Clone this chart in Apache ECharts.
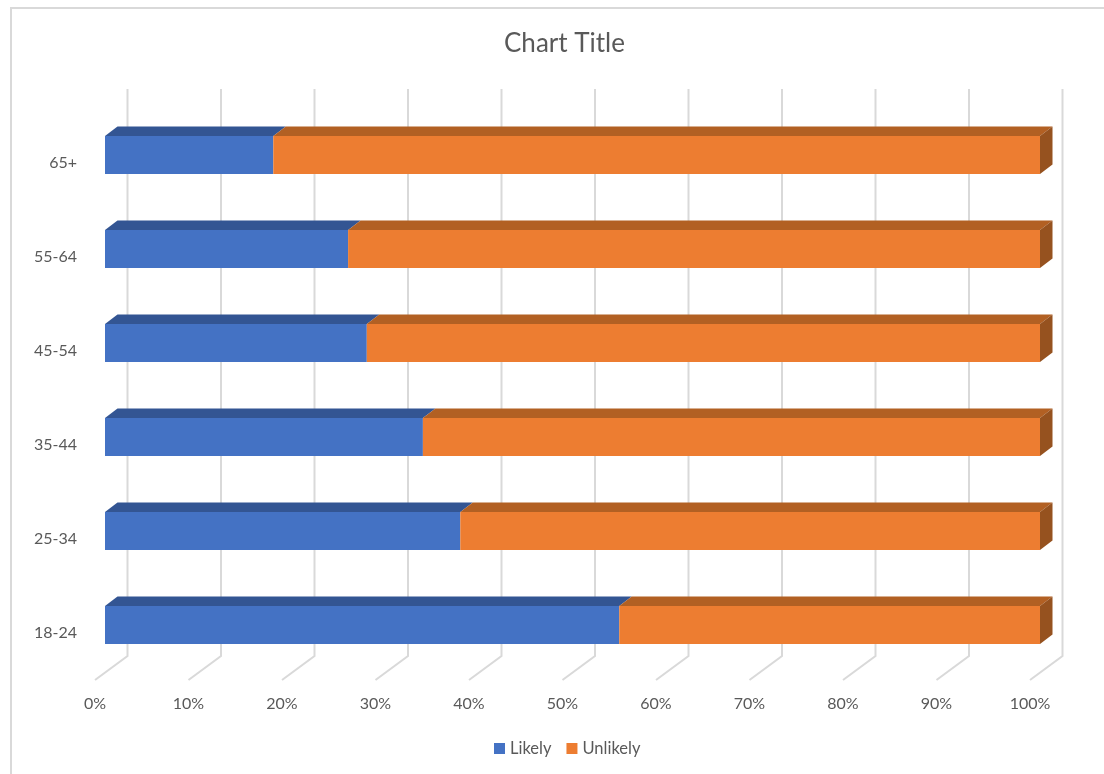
<!DOCTYPE html>
<html>
<head>
<meta charset="utf-8">
<style>html,body{margin:0;padding:0;background:#fff}#c{width:1104px;height:774px}</style>
<script src="https://cdn.jsdelivr.net/npm/echarts@6/dist/echarts.min.js"></script>
</head>
<body>
<div id="c"></div>
<script>
const categories = ['18-24', '25-34', '35-44', '45-54', '55-64', '65+'];
const likely = [55, 38, 34, 28, 26, 18];
const unlikely = [45, 62, 66, 72, 74, 82];
const ticks = [0, 10, 20, 30, 40, 50, 60, 70, 80, 90, 100];

const FONT = 'Lato, "Open Sans", sans-serif';
const TEXT = '#595959';
const GRID = '#d9d9d9';

// projection offsets of the pseudo-3D box, relative to the axis plane
const WALL = [32.5, -24], WALL_TOP = -27;
const FRONT = [10, -8], BACK = [22.5, -17.5], HALF_BAR = 19;

function wallItem(params, api) {
  const x = api.coord([api.value(0), 0])[0];
  const sys = params.coordSys;
  const floor = sys.y + sys.height;
  return {
    type: 'polyline',
    shape: { points: [[x, floor], [x + WALL[0], floor + WALL[1]], [x + WALL[0], sys.y + WALL_TOP]] },
    style: { stroke: GRID, lineWidth: 2, fill: null }
  };
}

function boxRenderer(front, top, side, last) {
  return function (params, api) {
    const a = api.coord([api.value(0), api.value(2)]);
    const b = api.coord([api.value(1), api.value(2)]);
    const x0 = a[0] + FRONT[0], x1 = b[0] + FRONT[0];
    const y0 = a[1] + FRONT[1] - HALF_BAR, y1 = a[1] + FRONT[1] + HALF_BAR;
    const dx = BACK[0] - FRONT[0], dy = BACK[1] - FRONT[1];
    const children = [
      { type: 'polygon', shape: { points: [[x0, y0], [x0 + dx, y0 + dy], [x1 + dx, y0 + dy], [x1, y0]] }, style: { fill: top } },
      { type: 'rect', shape: { x: x0, y: y0, width: x1 - x0, height: y1 - y0 }, style: { fill: front } }
    ];
    if (last) {
      children.push({ type: 'polygon', shape: { points: [[x1, y0], [x1 + dx, y0 + dy], [x1 + dx, y1 + dy], [x1, y1]] }, style: { fill: side } });
    }
    return { type: 'group', children };
  };
}

const likelyBoxes = likely.map((v, i) => [0, v, i]);
const unlikelyBoxes = unlikely.map((v, i) => [likely[i], likely[i] + v, i]);

const chart = echarts.init(document.getElementById('c'), null, { renderer: 'canvas' });
chart.setOption({
  animation: false,
  backgroundColor: '#fff',
  title: {
    text: 'Chart Title',
    left: 499, top: 26,
    textStyle: { color: TEXT, fontFamily: FONT, fontSize: 26, fontWeight: 'normal' }
  },
  legend: {
    data: ['Likely', 'Unlikely'],
    left: 489, top: 735,
    icon: 'rect', itemWidth: 11, itemHeight: 11, itemGap: 15,
    textStyle: { color: TEXT, fontFamily: FONT, fontSize: 16.5, padding: [0, 0, 0, 0] }
  },
  grid: { left: 95, right: 74, top: 116, bottom: 94, containLabel: false },
  xAxis: {
    type: 'value', min: 0, max: 100, interval: 10,
    axisLine: { show: false }, axisTick: { show: false }, splitLine: { show: false },
    axisLabel: { formatter: '{value}%', color: TEXT, fontFamily: FONT, fontSize: 16, margin: 16 }
  },
  yAxis: {
    type: 'category', data: categories,
    axisLine: { show: false }, axisTick: { show: false }, splitLine: { show: false },
    axisLabel: { color: TEXT, fontFamily: FONT, fontSize: 16, margin: 18, padding: [4, 0, 0, 0] }
  },
  graphic: [{
    type: 'polyline', silent: true,
    shape: { points: [[11, 774], [11, 8], [1104, 8]] },
    style: { stroke: GRID, lineWidth: 2, fill: null }
  }],
  series: [
    { type: 'custom', name: 'walls', silent: true, clip: false, data: ticks.map(t => [t]), encode: { x: 0 }, renderItem: wallItem, z: 1 },
    { type: 'custom', name: 'Likely', clip: false, data: likelyBoxes, encode: { x: [0, 1], y: 2 }, itemStyle: { color: '#4472C4' }, renderItem: boxRenderer('#4472C4', '#335593', '#2f4f8a', false), z: 2 },
    { type: 'custom', name: 'Unlikely', clip: false, data: unlikelyBoxes, encode: { x: [0, 1], y: 2 }, itemStyle: { color: '#ED7D31' }, renderItem: boxRenderer('#ED7D31', '#B26023', '#96521F', true), z: 3 }
  ]
});
</script>
</body>
</html>
